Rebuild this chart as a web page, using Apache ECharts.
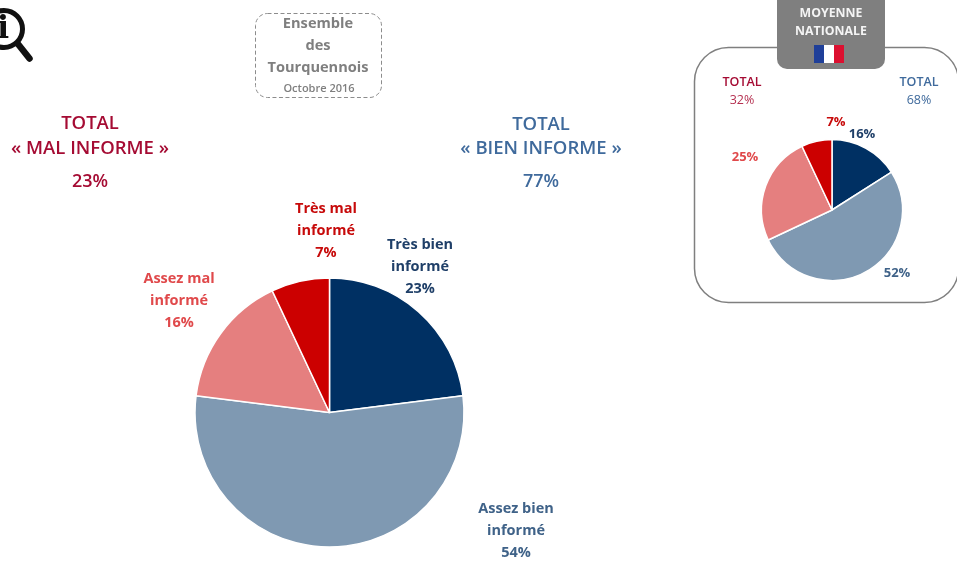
<!DOCTYPE html>
<html><head><meta charset="utf-8">
<style>html,body{margin:0;padding:0;background:#fff}#c{width:957px;height:561px}</style>
<script src="https://cdn.jsdelivr.net/npm/echarts@6/dist/echarts.min.js"></script>
</head><body><div id="c"></div>
<script>
const categories = ['Très bien\ninformé', 'Assez bien\ninformé', 'Assez mal\ninformé', 'Très mal\ninformé'];
const tourcoingValues = [23, 54, 16, 7];
const nationalValues = [16, 52, 25, 7];
const sliceColors = ['#003063', '#7F99B2', '#E57F7F', '#CC0000'];
const labelColors = ['#1F3F68', '#3F6288', '#E0494B', '#C70A0A'];
const mainLabelPos = [[420, 267], [516, 531], [179, 301], [326, 231]];
const smallLabelPos = [[862, 134], [897, 273], [745, 157], [836, 122]];

const txt = (x, y, text, font, color) => ({
  type: 'text', x, y, z: 5,
  style: { text, font: `${font} "Open Sans", "Liberation Sans", sans-serif`, fill: color, align: 'center', verticalAlign: 'middle' }
});

function pie(center, radius, values, positions, fmt, size) {
  return {
    type: 'pie', center, radius, startAngle: 90, clockwise: true, animation: false, silent: true, z: 3,
    itemStyle: { borderColor: '#fff', borderWidth: 1.5 },
    data: values.map((v, i) => ({ name: categories[i], value: v, itemStyle: { color: sliceColors[i] },
      label: { color: labelColors[i] } })),
    label: { show: true, position: 'outside', formatter: fmt, fontFamily: '"Open Sans", sans-serif', fontWeight: 'bold', fontSize: size, lineHeight: 22, align: 'center' },
    labelLine: { show: false },
    labelLayout: p => { const a = positions[p.dataIndex]; return { x: a[0], y: a[1], align: 'center', verticalAlign: 'middle' }; }
  };
}

const chart = echarts.init(document.getElementById('c'));
chart.setOption({
  backgroundColor: '#fff',
  animation: false,
  graphic: { elements: [
    { type: 'circle', shape: { cx: 4, cy: 29, r: 18.5 }, style: { fill: '#fff', stroke: '#111', lineWidth: 5 } },
    { type: 'line', shape: { x1: 18, y1: 44, x2: 29.5, y2: 58.5 }, style: { stroke: '#111', lineWidth: 6.5, lineCap: 'round' } },
    { type: 'text', x: 3, y: 30, z: 5, style: { text: 'i', font: 'bold 32px "DejaVu Serif", serif', fill: '#111', align: 'center', verticalAlign: 'middle' } },
    { type: 'rect', shape: { x: 255.5, y: 13.5, width: 126, height: 84, r: 12 }, style: { fill: '#fff', stroke: '#8c8c8c', lineWidth: 1, lineDash: [4, 2.5] } },
    txt(318, 24, 'Ensemble', 'bold 14.6px', '#7f7f7f'),
    txt(318, 46, 'des', 'bold 14.6px', '#7f7f7f'),
    txt(318, 68, 'Tourquennois', 'bold 14.6px', '#7f7f7f'),
    txt(319, 89, 'Octobre 2016', '600 11px', '#7f7f7f'),
    txt(90, 124, 'TOTAL', '600 18.5px', '#A50B33'),
    txt(90, 149, '« MAL INFORME »', '600 18.5px', '#A50B33'),
    txt(90, 182, '23%', '600 18px', '#A50B33'),
    txt(541, 125, 'TOTAL', '600 18.5px', '#3F6A9C'),
    txt(541, 149, '« BIEN INFORME »', '600 18.5px', '#3F6A9C'),
    txt(541, 182, '77%', '600 18px', '#3F6A9C'),
    { type: 'rect', z: 1, shape: { x: 694.5, y: 47.5, width: 264, height: 255, r: 34 }, style: { fill: '#fff', stroke: '#7f7f7f', lineWidth: 1.5 } },
    { type: 'rect', z: 2, shape: { x: 777, y: -10, width: 108, height: 79, r: 10 }, style: { fill: '#7f7f7f' } },
    txt(831, 13, 'MOYENNE', 'bold 12.3px', '#f4f4f4'),
    txt(831, 31, 'NATIONALE', 'bold 12.3px', '#f4f4f4'),
    { type: 'rect', z: 5, shape: { x: 814, y: 45, width: 10, height: 18 }, style: { fill: '#1F3F99' } },
    { type: 'rect', z: 5, shape: { x: 824, y: 45, width: 10, height: 18 }, style: { fill: '#fff' } },
    { type: 'rect', z: 5, shape: { x: 834, y: 45, width: 10, height: 18 }, style: { fill: '#DC1030' } },
    txt(742, 82, 'TOTAL', '600 12.5px', '#A50B33'),
    txt(742, 100, '32%', '12.5px', '#B53050'),
    txt(919, 82, 'TOTAL', '600 12.5px', '#3F6A9C'),
    txt(919, 100, '68%', '12.5px', '#3F6A9C')
  ] },
  series: [
    pie([329.5, 412.5], 134.5, tourcoingValues, mainLabelPos, p => p.name + '\n' + p.value + '%', 14.5),
    pie([832, 210], 70.5, nationalValues, smallLabelPos, p => p.value + '%', 13)
  ]
});
</script></body></html>
